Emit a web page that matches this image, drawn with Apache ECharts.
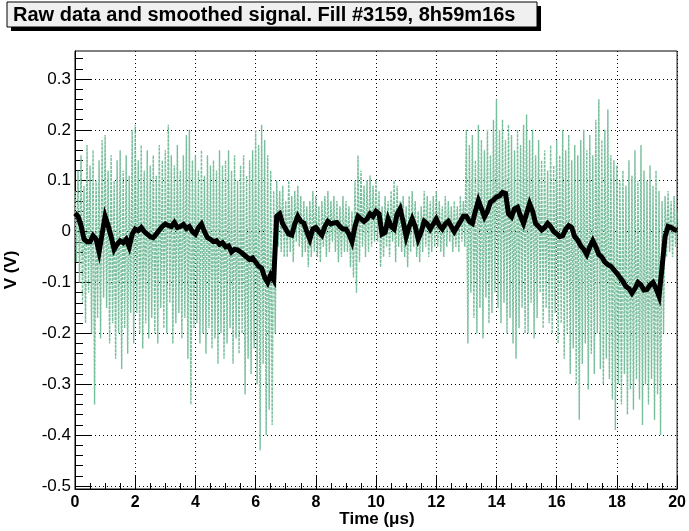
<!DOCTYPE html>
<html>
<head>
<meta charset="utf-8">
<script src="https://cdn.jsdelivr.net/npm/echarts@6/dist/echarts.min.js"></script>
<style>
html,body{margin:0;padding:0;background:#fff;}
#c{width:689px;height:531px;}
</style>
</head>
<body>
<div id="c"></div>
<script>
// ---- data ----
const titleText = 'Raw data and smoothed signal. Fill #3159, 8h59m16s';
const xTitle = 'Time (\u03bcs)';
const yTitle = 'V (V)';
const rawStep = 0.05;   // µs between raw samples
const smoothStep = 0.1; // µs between smoothed samples
const yMajorTicks = [-0.5, -0.4, -0.3, -0.2, -0.1, 0, 0.1, 0.2, 0.3];

const rawV = [
 0.08,-0.06,0.12,-0.1,0.15,-0.14,0.09,-0.18,0.17,-0.12,0.13,-0.2,0.16,-0.34,0.1,-0.17,0.14,-0.21,0.18,-0.13,
 0.19,-0.15,0.12,-0.22,0.15,-0.18,0.1,-0.25,0.14,-0.2,0.16,-0.27,0.12,-0.19,0.15,-0.24,0.11,-0.16,0.2,-0.22,
 0.21,-0.16,0.14,-0.2,0.17,-0.23,0.12,-0.18,0.16,-0.21,0.13,-0.17,0.15,-0.2,0.11,-0.22,0.17,-0.15,0.14,-0.19,
 0.16,-0.2,0.21,-0.14,0.15,-0.22,0.13,-0.18,0.17,-0.16,0.12,-0.21,0.15,-0.17,0.19,-0.25,0.2,-0.34,0.14,-0.19,
 0.15,-0.18,0.12,-0.22,0.16,-0.2,0.11,-0.24,0.15,-0.19,0.13,-0.23,0.14,-0.21,0.12,-0.26,0.16,-0.2,0.13,-0.25,
 0.14,-0.22,0.16,-0.19,0.12,-0.26,0.15,-0.21,0.1,-0.24,0.13,-0.2,0.15,-0.32,0.11,-0.25,0.14,-0.28,0.16,-0.23,
 0.2,-0.3,0.17,-0.43,0.21,-0.26,0.18,-0.4,0.15,-0.35,0.12,-0.38,0.08,-0.2,0.1,-0.03,0.08,-0.04,0.09,-0.05,
 0.06,-0.05,0.1,-0.04,0.07,-0.06,0.08,-0.02,0.09,-0.03,0.07,-0.05,0.06,-0.04,0.05,-0.07,0.06,-0.05,0.08,-0.04,
 0.07,-0.05,0.05,-0.06,0.06,-0.03,0.07,-0.05,0.08,-0.04,0.06,-0.02,0.07,-0.04,0.06,-0.06,0.05,-0.05,0.07,-0.04,
 0.06,-0.04,0.05,-0.07,0.04,-0.09,0.1,-0.12,0.15,-0.06,0.12,-0.03,0.09,-0.05,0.1,-0.04,0.11,-0.03,0.09,-0.02,
 0.1,-0.02,0.08,-0.07,0.05,-0.05,0.07,-0.03,0.06,-0.05,0.08,-0.02,0.1,-0.06,0.09,-0.03,0.06,-0.04,0.07,-0.05,
 0.05,-0.07,0.07,-0.04,0.08,-0.03,0.06,-0.05,0.04,-0.06,0.05,-0.04,0.08,-0.03,0.07,-0.05,0.06,-0.04,0.07,-0.03,
 0.08,-0.03,0.06,-0.04,0.05,-0.05,0.07,-0.03,0.06,-0.02,0.05,-0.04,0.06,-0.03,0.05,-0.04,0.07,-0.02,0.06,-0.03,
 0.2,-0.22,0.17,-0.12,0.19,-0.17,0.14,-0.2,0.21,-0.15,0.18,-0.21,0.16,-0.13,0.2,-0.18,0.15,-0.16,0.22,-0.12,
 0.26,-0.15,0.2,-0.18,0.22,-0.14,0.18,-0.2,0.21,-0.17,0.19,-0.22,0.16,-0.25,0.2,-0.19,0.17,-0.15,0.21,-0.2,
 0.23,-0.2,0.18,-0.14,0.2,-0.21,0.15,-0.17,0.18,-0.12,0.14,-0.19,0.16,-0.15,0.12,-0.18,0.17,-0.2,0.13,-0.16,
 0.18,-0.22,0.15,-0.18,0.2,-0.25,0.16,-0.2,0.19,-0.28,0.14,-0.23,0.17,-0.3,0.15,-0.37,0.18,-0.26,0.2,-0.22,
 0.16,-0.31,0.19,-0.24,0.15,-0.28,0.22,-0.2,0.26,-0.27,0.18,-0.3,0.2,-0.25,0.24,-0.29,0.15,-0.33,0.14,-0.39,
 0.13,-0.3,0.1,-0.34,0.12,-0.28,0.09,-0.36,0.14,-0.31,0.11,-0.35,0.16,-0.29,0.1,-0.33,0.17,-0.38,0.12,-0.3,
 0.1,-0.34,0.13,-0.29,0.09,-0.37,0.12,-0.32,0.08,-0.4,0.06,-0.2,0.07,-0.05,0.08,-0.04,0.06,-0.05,0.07,-0.03,
 0.04
];

const smoothV = [
 0.036,0.03,0.012,-0.015,-0.02,-0.02,-0.008,-0.015,-0.04,-0.005,
 0.03,0.012,-0.01,-0.035,-0.025,-0.018,-0.022,-0.015,-0.03,-0.005,
 0.005,0.002,0.008,0.0,-0.005,-0.01,-0.012,-0.005,0.003,0.01,
 0.015,0.012,0.01,0.018,0.008,0.01,0.014,0.006,0.01,0.0,
 -0.005,0.008,0.015,0.0,-0.012,-0.015,-0.02,-0.018,-0.025,-0.022,
 -0.03,-0.028,-0.04,-0.035,-0.036,-0.04,-0.045,-0.05,-0.055,-0.052,
 -0.06,-0.068,-0.072,-0.09,-0.1,-0.085,-0.095,0.03,0.035,0.015,
 0.005,-0.005,-0.007,0.015,0.03,0.02,0.017,0.0,-0.015,0.005,
 0.008,0.0,-0.007,0.01,0.02,0.015,0.017,0.018,0.01,0.005,
 0.005,-0.005,-0.02,0.01,0.03,0.025,0.02,0.025,0.035,0.03,
 0.04,0.035,-0.005,-0.002,0.025,0.01,0.005,0.035,0.045,0.02,
 -0.01,0.01,0.025,0.01,-0.015,0.0,0.02,0.015,0.005,0.015,
 0.025,0.012,0.005,0.015,0.02,0.01,0.0,0.01,0.02,0.03,
 0.03,0.02,0.016,0.04,0.061,0.045,0.029,0.04,0.058,0.062,
 0.068,0.07,0.077,0.075,0.035,0.029,0.045,0.048,0.03,0.016,
 0.035,0.055,0.04,0.016,0.01,0.003,0.008,0.016,0.01,0.0,
 -0.004,-0.01,-0.008,0.005,0.012,0.008,-0.01,-0.017,-0.028,-0.035,
 -0.045,-0.03,-0.018,-0.03,-0.045,-0.05,-0.06,-0.065,-0.068,-0.075,
 -0.082,-0.09,-0.098,-0.108,-0.112,-0.121,-0.112,-0.1,-0.105,-0.115,
 -0.114,-0.105,-0.1,-0.112,-0.127,-0.07,-0.01,0.01,0.008,0.004,
 0.002
];

// ---- build ----
const rawData = rawV.map((v, i) => [+(i * rawStep).toFixed(3), v]);
const smoothData = smoothV.map((v, i) => [+(i * smoothStep).toFixed(3), v]);
const yMinorTicks = [];
for (let k = -25; k <= 17; k++) yMinorTicks.push(+(k * 0.02).toFixed(2));

const FONT = '"Liberation Sans", Arial, Helvetica, sans-serif';
const chart = echarts.init(document.getElementById('c'), null, {renderer: 'canvas'});
const Y_MIN = -0.506, Y_MAX = 0.355;

chart.setOption({
  animation: false,
  backgroundColor: '#ffffff',
  grid: {left: 75, top: 51, width: 605, height: 438, show: true, borderColor: '#000', borderWidth: 1, backgroundColor: 'transparent'},
  xAxis: {
    type: 'value', min: 0, max: 20, interval: 2,
    axisLine: {show: true, onZero: false, lineStyle: {color: '#000', width: 1}},
    axisTick: {show: true, inside: true, length: 13, lineStyle: {color: '#000'}},
    minorTick: {show: true, splitNumber: 4, length: 6, lineStyle: {color: '#000'}},
    axisLabel: {color: '#000', fontSize: 16, fontWeight: 'bold', fontFamily: FONT, margin: 6},
    splitLine: {show: true, lineStyle: {color: '#000', type: [1, 3], width: 1}}
  },
  yAxis: [{
    type: 'value', min: Y_MIN, max: Y_MAX, position: 'left',
    axisLine: {show: true, onZero: false, lineStyle: {color: '#000', width: 1}},
    axisTick: {show: true, inside: true, length: 16, customValues: yMajorTicks, lineStyle: {color: '#000'}},
    axisLabel: {color: '#000', fontSize: 17, fontFamily: FONT, margin: 4, customValues: yMajorTicks,
      formatter: v => String(+v.toFixed(2))},
    splitLine: {show: true, lineStyle: {color: '#000', type: [1, 3], width: 1}}
  }, {
    type: 'value', min: Y_MIN, max: Y_MAX, position: 'left',
    axisLine: {show: false, onZero: false},
    axisTick: {show: true, inside: true, length: 8, customValues: yMinorTicks, lineStyle: {color: '#000'}},
    axisLabel: {show: false},
    splitLine: {show: false}
  }],
  series: [{
    type: 'line', data: rawData, showSymbol: false, symbol: 'none', yAxisIndex: 0,
    lineStyle: {color: '#7abf9d', width: 1.4, type: [3, 1]},
    z: 2, silent: true
  }, {
    type: 'line', data: smoothData, showSymbol: false, symbol: 'none', yAxisIndex: 0,
    lineStyle: {color: '#000', width: 5, join: 'miter'},
    z: 3, silent: true
  }],
  graphic: [
    {type: 'rect', shape: {x: 11, y: 6, width: 530, height: 25}, style: {fill: '#000'}, z: 10},
    {type: 'rect', shape: {x: 7, y: 2, width: 530, height: 25}, style: {fill: '#f0f0f0', stroke: '#000', lineWidth: 1}, z: 11},
    {type: 'text', x: 13, y: 15, style: {text: titleText, fill: '#000', font: 'bold 20px ' + FONT, verticalAlign: 'middle', align: 'left'}, z: 12},
    {type: 'text', x: 377, y: 519, style: {text: xTitle, fill: '#000', font: 'bold 17px ' + FONT, verticalAlign: 'middle', align: 'center'}, z: 12},
    {type: 'text', x: 11, y: 270, rotation: Math.PI / 2, style: {text: yTitle, fill: '#000', font: 'bold 17px ' + FONT, verticalAlign: 'middle', align: 'center'}, z: 12}
  ]
});
</script>
</body>
</html>
